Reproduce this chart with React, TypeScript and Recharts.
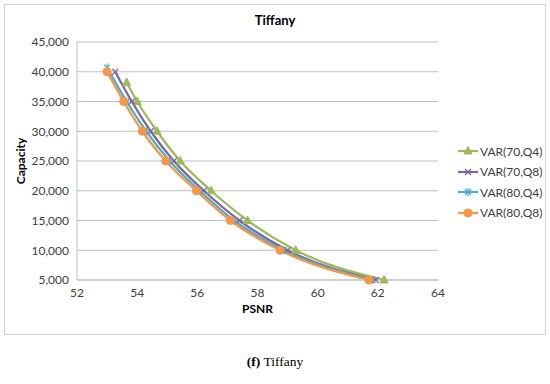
import React from "react";
import { LineChart, Line, XAxis, YAxis, CartesianGrid } from "recharts";

const xTicks = [52, 54, 56, 58, 60, 62, 64];
const yTicks = [5000, 10000, 15000, 20000, 25000, 30000, 35000, 40000, 45000];

const psnr70Q4 = [53.65, 54.0, 54.66, 55.43, 56.46, 57.67, 59.27, 62.21];
const cap70Q4 = [38200, 35000, 30000, 25000, 20000, 15000, 10000, 5000];

const psnr70Q8 = [53.27, 53.82, 54.45, 55.22, 56.22, 57.4, 59.0, 61.93];
const cap70Q8 = [40000, 35000, 30000, 25000, 20000, 15000, 10000, 5000];

const psnr80Q4 = [53.0, 53.65, 54.3, 55.08, 56.08, 57.22, 58.87, 61.82];
const cap80Q4 = [40700, 35000, 30000, 25000, 20000, 15000, 10000, 5000];

const psnr80Q8 = [53.0, 53.55, 54.17, 54.95, 55.97, 57.1, 58.75, 61.7];
const cap80Q8 = [40000, 35000, 30000, 25000, 20000, 15000, 10000, 5000];

const seriesNames = ["VAR(70,Q4)", "VAR(70,Q8)", "VAR(80,Q4)", "VAR(80,Q8)"];
const seriesColors = ["#9BBB59", "#8064A2", "#4BACC6", "#F79646"];
const seriesShapes = ["triangle", "x", "star", "circle"];

const build = (xs: number[], ys: number[]) => xs.map((x, i) => ({ x, y: ys[i] }));
const seriesData = [
  build(psnr70Q4, cap70Q4),
  build(psnr70Q8, cap70Q8),
  build(psnr80Q4, cap80Q4),
  build(psnr80Q8, cap80Q8),
];

const FONT = "Lato, 'Liberation Sans', sans-serif";

function Marker({ cx, cy, shape, color }: { cx: number; cy: number; shape: string; color: string }) {
  if (cx == null || cy == null) return null;
  if (shape === "triangle") {
    return (
      <polygon
        points={`${cx},${cy - 4.5} ${cx - 4},${cy + 3} ${cx + 4},${cy + 3}`}
        fill={color}
        stroke={color}
      />
    );
  }
  if (shape === "x") {
    const s = 3;
    return (
      <g stroke={color} strokeWidth={1.2}>
        <line x1={cx - s} y1={cy - s} x2={cx + s} y2={cy + s} />
        <line x1={cx - s} y1={cy + s} x2={cx + s} y2={cy - s} />
      </g>
    );
  }
  if (shape === "star") {
    const s = 3;
    return (
      <g stroke={color} strokeWidth={1.2}>
        <line x1={cx - s} y1={cy - s} x2={cx + s} y2={cy + s} />
        <line x1={cx - s} y1={cy + s} x2={cx + s} y2={cy - s} />
        <line x1={cx} y1={cy - s - 1} x2={cx} y2={cy + s + 1} />
      </g>
    );
  }
  return <circle cx={cx} cy={cy} r={4} fill={color} stroke={color} />;
}

function LegendBox() {
  return (
    <div
      style={{
        position: "absolute",
        left: 457,
        top: 141,
        width: 92,
        fontFamily: FONT,
        fontSize: 12,
        color: "#404040",
      }}
    >
      {seriesNames.map((n, i) => (
        <div key={n} style={{ display: "flex", alignItems: "center", height: 20.5 }}>
          <svg width={22} height={12} style={{ marginRight: 1 }}>
            <line x1={1} y1={6} x2={21} y2={6} stroke={seriesColors[i]} strokeWidth={2.25} />
            <Marker cx={11} cy={6} shape={seriesShapes[i]} color={seriesColors[i]} />
          </svg>
          <span>{n}</span>
        </div>
      ))}
    </div>
  );
}

export default function App() {
  return (
    <div style={{ position: "absolute", left: 0, top: 0, width: 550, height: 384, background: "#fff" }}>
      <div
        style={{
          position: "absolute",
          left: 4,
          top: 4,
          width: 540,
          height: 329,
          border: "1px solid #d0d0d0",
        }}
      />
      <div
        style={{
          position: "absolute",
          left: 0,
          width: 550,
          top: 12,
          textAlign: "center",
          fontFamily: FONT,
          fontWeight: "bold",
          fontSize: 13,
          color: "#000",
        }}
      >
        Tiffany
      </div>
      <div style={{ position: "absolute", left: 0, top: 0 }}>
        <LineChart width={550} height={384} margin={{ top: 42, right: 112, left: 0, bottom: 74 }}>
          <CartesianGrid vertical={false} stroke="#bfbfbf" strokeWidth={1} />
          <XAxis
            type="number"
            dataKey="x"
            domain={[52, 64]}
            ticks={xTicks}
            interval={0}
            allowDataOverflow
            height={30}
            tickLine={false}
            axisLine={{ stroke: "#bfbfbf" }}
            tick={{ fill: "#404040", fontSize: 12, fontFamily: FONT }}
            label={{
              value: "PSNR",
              position: "bottom",
              offset: -6,
              style: { fontFamily: FONT, fontSize: 12, fontWeight: "bold", fill: "#000" },
            }}
          />
          <YAxis
            type="number"
            dataKey="y"
            domain={[5000, 45000]}
            ticks={yTicks}
            interval={0}
            width={77}
            tickLine={false}
            axisLine={{ stroke: "#bfbfbf" }}
            tickFormatter={(v: number) => v.toLocaleString("en-US")}
            tick={{ fill: "#404040", fontSize: 12, fontFamily: FONT }}
            label={{
              value: "Capacity",
              angle: -90,
              position: "insideLeft",
              offset: 21,
              style: { fontFamily: FONT, fontSize: 12, fontWeight: "bold", fill: "#000", textAnchor: "middle" },
            }}
          />
          {seriesData.map((d, i) => (
            <Line
              key={seriesNames[i]}
              data={d}
              dataKey="y"
              name={seriesNames[i]}
              type="monotone"
              stroke={seriesColors[i]}
              strokeWidth={2.25}
              isAnimationActive={false}
              activeDot={false}
              dot={(p: any) => (
                <Marker key={`${i}-${p.index}`} cx={p.cx} cy={p.cy} shape={seriesShapes[i]} color={seriesColors[i]} />
              )}
            />
          ))}
        </LineChart>
      </div>
      <LegendBox />
      <div
        style={{
          position: "absolute",
          left: 0,
          width: 550,
          top: 354,
          textAlign: "center",
          fontFamily: "'Liberation Serif', serif",
          fontSize: 13.5,
          color: "#000",
        }}
      >
        <b>(f)</b> Tiffany
      </div>
    </div>
  );
}
